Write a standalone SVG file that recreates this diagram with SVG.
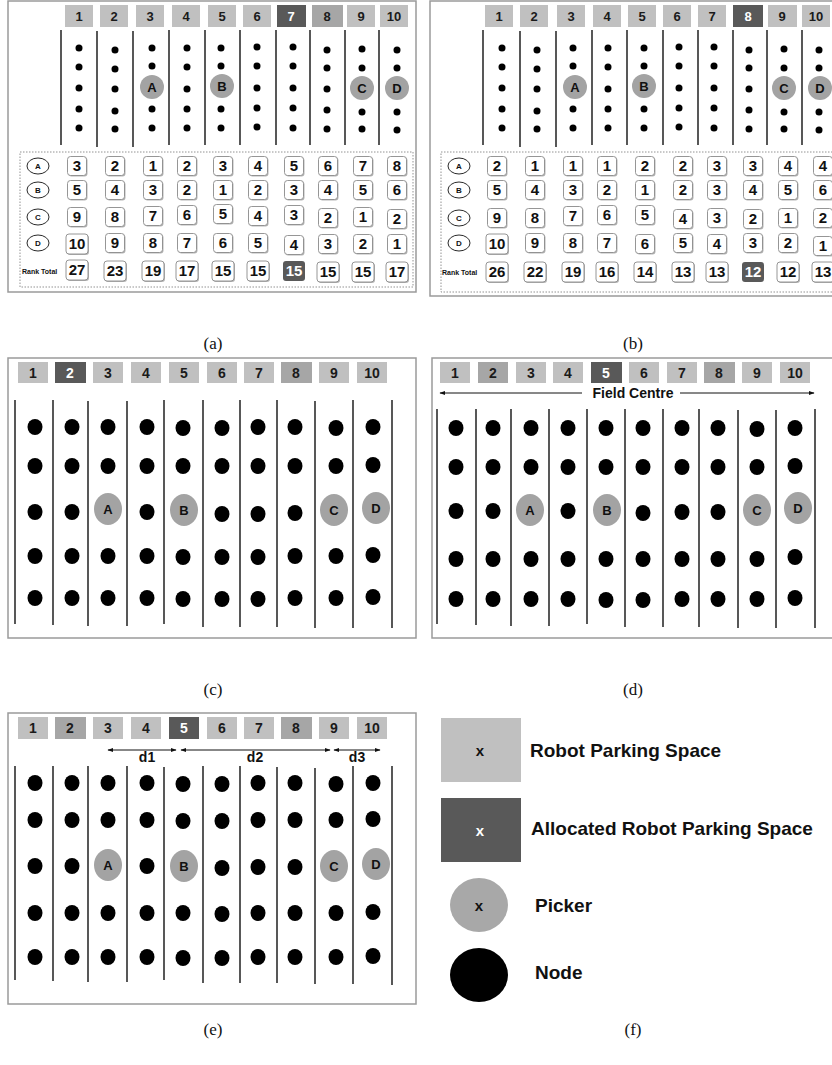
<svg xmlns="http://www.w3.org/2000/svg" width="832" height="1065" viewBox="0 0 832 1065">
<defs>
<style>
.frame{fill:#fff;stroke:#9a9a9a;stroke-width:1.5}
.tbl{fill:none;stroke:#777;stroke-width:0.8;stroke-dasharray:1.5 1.5}
.hl{fill:#c0c0c0}
.hm{fill:#a6a6a6}
.hd{fill:#595959}
.ht{font-family:"Liberation Sans",Arial,sans-serif;font-weight:bold;font-size:13px;text-anchor:middle;fill:#1a1a1a}
.h2{font-size:14px}
.ln{stroke:#111;stroke-width:1.4}
.dt{fill:#000}
.pk{fill:#a3a3a3}
.pt{font-family:"Liberation Sans",Arial,sans-serif;font-weight:bold;font-size:13px;text-anchor:middle;fill:#111}
.ov{fill:#fff;stroke:#111;stroke-width:0.9}
.ot{font-family:"Liberation Sans",Arial,sans-serif;font-weight:bold;font-size:8px;text-anchor:middle;fill:#111}
.nt{font-family:"Liberation Sans",Arial,sans-serif;font-weight:bold;font-size:15px;text-anchor:middle;fill:#111}
.rt{font-family:"Liberation Sans",Arial,sans-serif;font-weight:bold;font-size:7px;fill:#111}
.cap{font-family:"Liberation Serif","Times New Roman",serif;font-size:17px;text-anchor:middle;fill:#111}
.lg{font-family:"Liberation Sans",Arial,sans-serif;font-weight:bold;font-size:19px;fill:#111}
.lx{font-family:"Liberation Sans",Arial,sans-serif;font-weight:bold;font-size:15px;text-anchor:middle;fill:#111}
.ar{stroke:#111;stroke-width:1;fill:none;marker-start:url(#ah);marker-end:url(#ah)}
.ar1{stroke:#111;stroke-width:1;fill:none;marker-end:url(#ah)}
.dl{font-family:"Liberation Sans",Arial,sans-serif;font-weight:bold;font-size:14px;text-anchor:middle;fill:#111}
text.w{fill:#fff}
</style>
<marker id="ah" viewBox="0 0 10 10" refX="9" refY="5" markerWidth="6" markerHeight="6" markerUnits="userSpaceOnUse" orient="auto-start-reverse"><path d="M0,1.5 L10,5 L0,8.5 z" fill="#111"/></marker>
<g id="nb"><rect x="-8.5" y="-8.5" width="19" height="19" rx="3" fill="#b5b5b5"/><rect x="-9.5" y="-9.5" width="19" height="19" rx="3" fill="#fff" stroke="#8a8a8a" stroke-width="0.9"/></g>
<g id="nw"><rect x="-10" y="-9" width="22" height="20" rx="3" fill="#b5b5b5"/><rect x="-11" y="-10" width="22" height="20" rx="3" fill="#fff" stroke="#8a8a8a" stroke-width="0.9"/></g>
<g id="nd"><rect x="-11" y="-10" width="22" height="20" rx="3" fill="#595959"/></g>
</defs>
<rect width="832" height="1065" fill="#fff"/>

<!-- Panel (a) -->
<g id="panel-a">
<rect class="frame" x="8" y="1" width="408" height="291"/>
<g id="a-header">
<rect class="hl" x="65" y="5" width="28" height="22"/><text class="ht" x="79" y="21">1</text>
<rect class="hl" x="100" y="5" width="28" height="22"/><text class="ht" x="114" y="21">2</text>
<rect class="hl" x="136" y="5" width="28" height="22"/><text class="ht" x="150" y="21">3</text>
<rect class="hl" x="172" y="5" width="28" height="22"/><text class="ht" x="186" y="21">4</text>
<rect class="hl" x="208" y="5" width="28" height="22"/><text class="ht" x="222" y="21">5</text>
<rect class="hl" x="243" y="5" width="28" height="22"/><text class="ht" x="257" y="21">6</text>
<rect class="hd" x="277" y="5" width="29" height="22"/><text class="ht w" x="291" y="21">7</text>
<rect class="hm" x="312" y="5" width="31" height="22"/><text class="ht" x="327" y="21">8</text>
<rect class="hl" x="347" y="5" width="28" height="22"/><text class="ht" x="361" y="21">9</text>
<rect class="hl" x="380" y="5" width="28" height="22"/><text class="ht" x="394" y="21">10</text>
</g>
<g id="a-rows">
<line class="ln" x1="61" y1="30" x2="61" y2="145"/><line class="ln" x1="97" y1="31" x2="97" y2="147"/><line class="ln" x1="133" y1="31" x2="133" y2="147"/><line class="ln" x1="169" y1="30" x2="169" y2="145"/><line class="ln" x1="205" y1="30" x2="205" y2="145"/><line class="ln" x1="240" y1="30" x2="240" y2="145"/><line class="ln" x1="276" y1="30" x2="276" y2="145"/><line class="ln" x1="310" y1="30" x2="310" y2="145"/><line class="ln" x1="345" y1="30" x2="345" y2="145"/><line class="ln" x1="379" y1="30" x2="379" y2="145"/>
</g>
<g id="a-nodes">
<circle class="dt" cx="79" cy="48" r="3.5"/><circle class="dt" cx="79" cy="67" r="3.5"/><circle class="dt" cx="79" cy="88" r="3.5"/><circle class="dt" cx="79" cy="109" r="3.5"/><circle class="dt" cx="79" cy="128" r="3.5"/>
<circle class="dt" cx="115" cy="50" r="3.5"/><circle class="dt" cx="115" cy="69" r="3.5"/><circle class="dt" cx="115" cy="89" r="3.5"/><circle class="dt" cx="115" cy="111" r="3.5"/><circle class="dt" cx="115" cy="129" r="3.5"/>
<circle class="dt" cx="152" cy="48" r="3.5"/><circle class="dt" cx="152" cy="66" r="3.5"/><circle class="dt" cx="152" cy="109" r="3.5"/><circle class="dt" cx="152" cy="128" r="3.5"/>
<circle class="dt" cx="187" cy="48" r="3.5"/><circle class="dt" cx="187" cy="67" r="3.5"/><circle class="dt" cx="187" cy="89" r="3.5"/><circle class="dt" cx="187" cy="109" r="3.5"/><circle class="dt" cx="187" cy="128" r="3.5"/>
<circle class="dt" cx="221" cy="48" r="3.5"/><circle class="dt" cx="221" cy="66" r="3.5"/><circle class="dt" cx="221" cy="109" r="3.5"/><circle class="dt" cx="221" cy="128" r="3.5"/>
<circle class="dt" cx="257" cy="47" r="3.5"/><circle class="dt" cx="257" cy="66" r="3.5"/><circle class="dt" cx="257" cy="88" r="3.5"/><circle class="dt" cx="257" cy="108" r="3.5"/><circle class="dt" cx="257" cy="127" r="3.5"/>
<circle class="dt" cx="293" cy="47" r="3.5"/><circle class="dt" cx="293" cy="66" r="3.5"/><circle class="dt" cx="293" cy="88" r="3.5"/><circle class="dt" cx="293" cy="108" r="3.5"/><circle class="dt" cx="293" cy="128" r="3.5"/>
<circle class="dt" cx="327" cy="50" r="3.5"/><circle class="dt" cx="327" cy="68" r="3.5"/><circle class="dt" cx="327" cy="89" r="3.5"/><circle class="dt" cx="327" cy="110" r="3.5"/><circle class="dt" cx="327" cy="129" r="3.5"/>
<circle class="dt" cx="362" cy="49" r="3.5"/><circle class="dt" cx="362" cy="68" r="3.5"/><circle class="dt" cx="362" cy="112" r="3.5"/><circle class="dt" cx="362" cy="129" r="3.5"/>
<circle class="dt" cx="397" cy="50" r="3.5"/><circle class="dt" cx="397" cy="68" r="3.5"/><circle class="dt" cx="397" cy="112" r="3.5"/><circle class="dt" cx="397" cy="130" r="3.5"/>
</g>
<g id="a-pickers">
<circle class="pk" cx="152" cy="87" r="12"/><text class="pt" x="152" y="92">A</text>
<circle class="pk" cx="222" cy="86" r="12"/><text class="pt" x="222" y="91">B</text>
<circle class="pk" cx="362" cy="88" r="12"/><text class="pt" x="362" y="93">C</text>
<circle class="pk" cx="397" cy="88" r="12"/><text class="pt" x="397" y="93">D</text>
</g>
<g id="a-table">
<rect class="tbl" x="20" y="152" width="393" height="135"/>
<ellipse class="ov" cx="38" cy="166" rx="11" ry="8"/><text class="ot" x="38" y="169">A</text>
<ellipse class="ov" cx="38" cy="190" rx="11" ry="8"/><text class="ot" x="38" y="193">B</text>
<ellipse class="ov" cx="38" cy="217" rx="11" ry="8"/><text class="ot" x="38" y="220">C</text>
<ellipse class="ov" cx="38" cy="243" rx="11" ry="8"/><text class="ot" x="38" y="246">D</text>
<text class="rt" x="22" y="274">Rank Total</text>
<use href="#nb" x="77" y="166"/><use href="#nb" x="115" y="166"/><use href="#nb" x="153" y="166"/><use href="#nb" x="187" y="166"/><use href="#nb" x="223" y="166"/><use href="#nb" x="258" y="166"/><use href="#nb" x="294" y="166"/><use href="#nb" x="328" y="166"/><use href="#nb" x="363" y="166"/><use href="#nb" x="397" y="166"/>
<text class="nt" x="77" y="171">3</text><text class="nt" x="115" y="171">2</text><text class="nt" x="153" y="171">1</text><text class="nt" x="187" y="171">2</text><text class="nt" x="223" y="171">3</text><text class="nt" x="258" y="171">4</text><text class="nt" x="294" y="171">5</text><text class="nt" x="328" y="171">6</text><text class="nt" x="363" y="171">7</text><text class="nt" x="397" y="171">8</text>
<use href="#nb" x="77" y="190"/><use href="#nb" x="115" y="190"/><use href="#nb" x="153" y="190"/><use href="#nb" x="187" y="190"/><use href="#nb" x="223" y="190"/><use href="#nb" x="258" y="190"/><use href="#nb" x="294" y="190"/><use href="#nb" x="328" y="190"/><use href="#nb" x="363" y="190"/><use href="#nb" x="397" y="190"/>
<text class="nt" x="77" y="195">5</text><text class="nt" x="115" y="195">4</text><text class="nt" x="153" y="195">3</text><text class="nt" x="187" y="195">2</text><text class="nt" x="223" y="195">1</text><text class="nt" x="258" y="195">2</text><text class="nt" x="294" y="195">3</text><text class="nt" x="328" y="195">4</text><text class="nt" x="363" y="195">5</text><text class="nt" x="397" y="195">6</text>
<use href="#nb" x="77" y="217"/><use href="#nb" x="115" y="217"/><use href="#nb" x="153" y="216"/><use href="#nb" x="187" y="215"/><use href="#nb" x="223" y="214"/><use href="#nb" x="258" y="216"/><use href="#nb" x="294" y="215"/><use href="#nb" x="328" y="218"/><use href="#nb" x="363" y="217"/><use href="#nb" x="397" y="219"/>
<text class="nt" x="77" y="222">9</text><text class="nt" x="115" y="222">8</text><text class="nt" x="153" y="221">7</text><text class="nt" x="187" y="220">6</text><text class="nt" x="223" y="219">5</text><text class="nt" x="258" y="221">4</text><text class="nt" x="294" y="220">3</text><text class="nt" x="328" y="223">2</text><text class="nt" x="363" y="222">1</text><text class="nt" x="397" y="224">2</text>
<use href="#nw" x="77" y="244"/><use href="#nb" x="115" y="243"/><use href="#nb" x="153" y="243"/><use href="#nb" x="187" y="243"/><use href="#nb" x="223" y="243"/><use href="#nb" x="258" y="243"/><use href="#nb" x="294" y="245"/><use href="#nb" x="328" y="244"/><use href="#nb" x="363" y="244"/><use href="#nb" x="397" y="244"/>
<text class="nt" x="77" y="249">10</text><text class="nt" x="115" y="248">9</text><text class="nt" x="153" y="248">8</text><text class="nt" x="187" y="248">7</text><text class="nt" x="223" y="248">6</text><text class="nt" x="258" y="248">5</text><text class="nt" x="294" y="250">4</text><text class="nt" x="328" y="249">3</text><text class="nt" x="363" y="249">2</text><text class="nt" x="397" y="249">1</text>
<use href="#nw" x="77" y="270"/><use href="#nw" x="115" y="271"/><use href="#nw" x="153" y="271"/><use href="#nw" x="187" y="271"/><use href="#nw" x="223" y="271"/><use href="#nw" x="258" y="271"/><use href="#nd" x="294" y="271"/><use href="#nw" x="328" y="272"/><use href="#nw" x="363" y="272"/><use href="#nw" x="397" y="272"/>
<text class="nt" x="77" y="275">27</text><text class="nt" x="115" y="276">23</text><text class="nt" x="153" y="276">19</text><text class="nt" x="187" y="276">17</text><text class="nt" x="223" y="276">15</text><text class="nt" x="258" y="276">15</text><text class="nt w" x="294" y="276">15</text><text class="nt" x="328" y="277">15</text><text class="nt" x="363" y="277">15</text><text class="nt" x="397" y="277">17</text>
</g>
</g>

<!-- Panel (b) -->
<g id="panel-b">
<rect class="frame" x="430" y="1" width="420" height="295"/>
<g id="b-header">
<rect class="hl" x="485" y="5" width="28" height="22"/><text class="ht" x="499" y="21">1</text>
<rect class="hl" x="520" y="5" width="28" height="22"/><text class="ht" x="534" y="21">2</text>
<rect class="hl" x="557" y="5" width="28" height="22"/><text class="ht" x="571" y="21">3</text>
<rect class="hl" x="593" y="5" width="28" height="22"/><text class="ht" x="607" y="21">4</text>
<rect class="hl" x="628" y="5" width="28" height="22"/><text class="ht" x="642" y="21">5</text>
<rect class="hl" x="663" y="5" width="28" height="22"/><text class="ht" x="677" y="21">6</text>
<rect class="hl" x="698" y="5" width="28" height="22"/><text class="ht" x="712" y="21">7</text>
<rect class="hd" x="733" y="5" width="30" height="22"/><text class="ht w" x="748" y="21">8</text>
<rect class="hl" x="768" y="5" width="29" height="22"/><text class="ht" x="782" y="21">9</text>
<rect class="hl" x="802" y="5" width="28" height="22"/><text class="ht" x="816" y="21">10</text>
</g>
<g id="b-rows">
<line class="ln" x1="483" y1="30" x2="483" y2="145"/><line class="ln" x1="520" y1="31" x2="520" y2="147"/><line class="ln" x1="556" y1="31" x2="556" y2="147"/><line class="ln" x1="592" y1="30" x2="592" y2="145"/><line class="ln" x1="627" y1="30" x2="627" y2="145"/><line class="ln" x1="663" y1="30" x2="663" y2="145"/><line class="ln" x1="698" y1="30" x2="698" y2="145"/><line class="ln" x1="733" y1="30" x2="733" y2="145"/><line class="ln" x1="767" y1="30" x2="767" y2="145"/><line class="ln" x1="802" y1="30" x2="802" y2="145"/>
</g>
<g id="b-nodes">
<circle class="dt" cx="502" cy="48" r="3.5"/><circle class="dt" cx="502" cy="67" r="3.5"/><circle class="dt" cx="502" cy="88" r="3.5"/><circle class="dt" cx="502" cy="109" r="3.5"/><circle class="dt" cx="502" cy="128" r="3.5"/>
<circle class="dt" cx="537" cy="50" r="3.5"/><circle class="dt" cx="537" cy="69" r="3.5"/><circle class="dt" cx="537" cy="89" r="3.5"/><circle class="dt" cx="537" cy="111" r="3.5"/><circle class="dt" cx="537" cy="129" r="3.5"/>
<circle class="dt" cx="573" cy="48" r="3.5"/><circle class="dt" cx="573" cy="66" r="3.5"/><circle class="dt" cx="573" cy="109" r="3.5"/><circle class="dt" cx="573" cy="128" r="3.5"/>
<circle class="dt" cx="608" cy="48" r="3.5"/><circle class="dt" cx="608" cy="67" r="3.5"/><circle class="dt" cx="608" cy="89" r="3.5"/><circle class="dt" cx="608" cy="109" r="3.5"/><circle class="dt" cx="608" cy="128" r="3.5"/>
<circle class="dt" cx="644" cy="48" r="3.5"/><circle class="dt" cx="644" cy="66" r="3.5"/><circle class="dt" cx="644" cy="109" r="3.5"/><circle class="dt" cx="644" cy="128" r="3.5"/>
<circle class="dt" cx="679" cy="47" r="3.5"/><circle class="dt" cx="679" cy="66" r="3.5"/><circle class="dt" cx="679" cy="88" r="3.5"/><circle class="dt" cx="679" cy="108" r="3.5"/><circle class="dt" cx="679" cy="127" r="3.5"/>
<circle class="dt" cx="714" cy="47" r="3.5"/><circle class="dt" cx="714" cy="66" r="3.5"/><circle class="dt" cx="714" cy="88" r="3.5"/><circle class="dt" cx="714" cy="108" r="3.5"/><circle class="dt" cx="714" cy="128" r="3.5"/>
<circle class="dt" cx="749" cy="50" r="3.5"/><circle class="dt" cx="749" cy="68" r="3.5"/><circle class="dt" cx="749" cy="89" r="3.5"/><circle class="dt" cx="749" cy="110" r="3.5"/><circle class="dt" cx="749" cy="129" r="3.5"/>
<circle class="dt" cx="784" cy="49" r="3.5"/><circle class="dt" cx="784" cy="68" r="3.5"/><circle class="dt" cx="784" cy="112" r="3.5"/><circle class="dt" cx="784" cy="129" r="3.5"/>
<circle class="dt" cx="819" cy="50" r="3.5"/><circle class="dt" cx="819" cy="68" r="3.5"/><circle class="dt" cx="819" cy="112" r="3.5"/><circle class="dt" cx="819" cy="130" r="3.5"/>
</g>
<g id="b-pickers">
<circle class="pk" cx="575" cy="87" r="12"/><text class="pt" x="575" y="92">A</text>
<circle class="pk" cx="644" cy="86" r="12"/><text class="pt" x="644" y="91">B</text>
<circle class="pk" cx="784" cy="88" r="12"/><text class="pt" x="784" y="93">C</text>
<circle class="pk" cx="820" cy="88" r="12"/><text class="pt" x="820" y="93">D</text>
</g>
<g id="b-table">
<rect class="tbl" x="441" y="152" width="400" height="140"/>
<ellipse class="ov" cx="459" cy="166" rx="11" ry="8"/><text class="ot" x="459" y="169">A</text>
<ellipse class="ov" cx="459" cy="190" rx="11" ry="8"/><text class="ot" x="459" y="193">B</text>
<ellipse class="ov" cx="459" cy="218" rx="11" ry="8"/><text class="ot" x="459" y="221">C</text>
<ellipse class="ov" cx="459" cy="243" rx="11" ry="8"/><text class="ot" x="459" y="246">D</text>
<text class="rt" x="442" y="275">Rank Total</text>
<use href="#nb" x="497" y="166"/><use href="#nb" x="535" y="166"/><use href="#nb" x="573" y="166"/><use href="#nb" x="607" y="166"/><use href="#nb" x="645" y="166"/><use href="#nb" x="683" y="166"/><use href="#nb" x="717" y="166"/><use href="#nb" x="753" y="166"/><use href="#nb" x="788" y="166"/><use href="#nb" x="823" y="166"/>
<text class="nt" x="497" y="171">2</text><text class="nt" x="535" y="171">1</text><text class="nt" x="573" y="171">1</text><text class="nt" x="607" y="171">1</text><text class="nt" x="645" y="171">2</text><text class="nt" x="683" y="171">2</text><text class="nt" x="717" y="171">3</text><text class="nt" x="753" y="171">3</text><text class="nt" x="788" y="171">4</text><text class="nt" x="823" y="171">4</text>
<use href="#nb" x="497" y="190"/><use href="#nb" x="535" y="190"/><use href="#nb" x="573" y="190"/><use href="#nb" x="607" y="190"/><use href="#nb" x="645" y="190"/><use href="#nb" x="683" y="190"/><use href="#nb" x="717" y="190"/><use href="#nb" x="753" y="190"/><use href="#nb" x="788" y="190"/><use href="#nb" x="823" y="190"/>
<text class="nt" x="497" y="195">5</text><text class="nt" x="535" y="195">4</text><text class="nt" x="573" y="195">3</text><text class="nt" x="607" y="195">2</text><text class="nt" x="645" y="195">1</text><text class="nt" x="683" y="195">2</text><text class="nt" x="717" y="195">3</text><text class="nt" x="753" y="195">4</text><text class="nt" x="788" y="195">5</text><text class="nt" x="823" y="195">6</text>
<use href="#nb" x="497" y="218"/><use href="#nb" x="535" y="218"/><use href="#nb" x="573" y="216"/><use href="#nb" x="607" y="215"/><use href="#nb" x="645" y="215"/><use href="#nb" x="683" y="219"/><use href="#nb" x="717" y="218"/><use href="#nb" x="753" y="219"/><use href="#nb" x="788" y="218"/><use href="#nb" x="823" y="218"/>
<text class="nt" x="497" y="223">9</text><text class="nt" x="535" y="223">8</text><text class="nt" x="573" y="221">7</text><text class="nt" x="607" y="220">6</text><text class="nt" x="645" y="220">5</text><text class="nt" x="683" y="224">4</text><text class="nt" x="717" y="223">3</text><text class="nt" x="753" y="224">2</text><text class="nt" x="788" y="223">1</text><text class="nt" x="823" y="223">2</text>
<use href="#nw" x="497" y="244"/><use href="#nb" x="535" y="243"/><use href="#nb" x="573" y="243"/><use href="#nb" x="607" y="243"/><use href="#nb" x="645" y="244"/><use href="#nb" x="683" y="243"/><use href="#nb" x="717" y="244"/><use href="#nb" x="753" y="243"/><use href="#nb" x="788" y="243"/><use href="#nb" x="823" y="246"/>
<text class="nt" x="497" y="249">10</text><text class="nt" x="535" y="248">9</text><text class="nt" x="573" y="248">8</text><text class="nt" x="607" y="248">7</text><text class="nt" x="645" y="249">6</text><text class="nt" x="683" y="248">5</text><text class="nt" x="717" y="249">4</text><text class="nt" x="753" y="248">3</text><text class="nt" x="788" y="248">2</text><text class="nt" x="823" y="251">1</text>
<use href="#nw" x="497" y="272"/><use href="#nw" x="535" y="272"/><use href="#nw" x="573" y="272"/><use href="#nw" x="607" y="272"/><use href="#nw" x="645" y="272"/><use href="#nw" x="683" y="272"/><use href="#nw" x="717" y="272"/><use href="#nd" x="753" y="272"/><use href="#nw" x="788" y="272"/><use href="#nw" x="823" y="272"/>
<text class="nt" x="497" y="277">26</text><text class="nt" x="535" y="277">22</text><text class="nt" x="573" y="277">19</text><text class="nt" x="607" y="277">16</text><text class="nt" x="645" y="277">14</text><text class="nt" x="683" y="277">13</text><text class="nt" x="717" y="277">13</text><text class="nt w" x="753" y="277">12</text><text class="nt" x="788" y="277">12</text><text class="nt" x="823" y="277">13</text>
</g>
</g>

<text class="cap" x="213" y="349">(a)</text>
<text class="cap" x="633" y="349">(b)</text>

<!-- Panel (c) -->
<g id="panel-c">
<rect class="frame" x="8" y="358" width="408" height="280"/>
<g id="c-header">
<rect class="hl" x="18" y="362" width="30" height="21"/><text class="ht h2" x="33" y="378">1</text>
<rect class="hd" x="55" y="362" width="31" height="21"/><text class="ht h2 w" x="70" y="378">2</text>
<rect class="hl" x="93" y="362" width="30" height="21"/><text class="ht h2" x="108" y="378">3</text>
<rect class="hl" x="131" y="362" width="30" height="21"/><text class="ht h2" x="146" y="378">4</text>
<rect class="hl" x="169" y="362" width="30" height="21"/><text class="ht h2" x="184" y="378">5</text>
<rect class="hl" x="207" y="362" width="30" height="21"/><text class="ht h2" x="222" y="378">6</text>
<rect class="hl" x="244" y="362" width="30" height="21"/><text class="ht h2" x="259" y="378">7</text>
<rect class="hm" x="281" y="362" width="31" height="21"/><text class="ht h2" x="296" y="378">8</text>
<rect class="hl" x="319" y="362" width="30" height="21"/><text class="ht h2" x="334" y="378">9</text>
<rect class="hl" x="357" y="362" width="30" height="21"/><text class="ht h2" x="372" y="378">10</text>
</g>
<g id="c-rows">
<line class="ln" x1="15" y1="400" x2="15" y2="624"/><line class="ln" x1="53" y1="400" x2="53" y2="625"/><line class="ln" x1="88" y1="401" x2="88" y2="626"/><line class="ln" x1="127" y1="401" x2="127" y2="626"/><line class="ln" x1="164" y1="400" x2="164" y2="624"/><line class="ln" x1="203" y1="400" x2="203" y2="627"/><line class="ln" x1="240" y1="400" x2="240" y2="627"/><line class="ln" x1="277" y1="400" x2="277" y2="627"/><line class="ln" x1="315" y1="401" x2="315" y2="628"/><line class="ln" x1="353" y1="400" x2="353" y2="628"/><line class="ln" x1="392" y1="400" x2="392" y2="628"/>
</g>
<g id="c-nodes">
<ellipse class="dt" cx="35" cy="427" rx="7.5" ry="8"/><ellipse class="dt" cx="35" cy="466" rx="7.5" ry="8"/><ellipse class="dt" cx="35" cy="512" rx="7.5" ry="8"/><ellipse class="dt" cx="35" cy="556" rx="7.5" ry="8"/><ellipse class="dt" cx="35" cy="598" rx="7.5" ry="8"/>
<ellipse class="dt" cx="72" cy="427" rx="7.5" ry="8"/><ellipse class="dt" cx="72" cy="466" rx="7.5" ry="8"/><ellipse class="dt" cx="72" cy="512" rx="7.5" ry="8"/><ellipse class="dt" cx="72" cy="556" rx="7.5" ry="8"/><ellipse class="dt" cx="72" cy="598" rx="7.5" ry="8"/>
<ellipse class="dt" cx="108" cy="427" rx="7.5" ry="8"/><ellipse class="dt" cx="108" cy="466" rx="7.5" ry="8"/><ellipse class="dt" cx="108" cy="556" rx="7.5" ry="8"/><ellipse class="dt" cx="108" cy="598" rx="7.5" ry="8"/>
<ellipse class="dt" cx="147" cy="427" rx="7.5" ry="8"/><ellipse class="dt" cx="147" cy="466" rx="7.5" ry="8"/><ellipse class="dt" cx="147" cy="512" rx="7.5" ry="8"/><ellipse class="dt" cx="147" cy="556" rx="7.5" ry="8"/><ellipse class="dt" cx="147" cy="598" rx="7.5" ry="8"/>
<ellipse class="dt" cx="183" cy="428" rx="7.5" ry="8"/><ellipse class="dt" cx="183" cy="466" rx="7.5" ry="8"/><ellipse class="dt" cx="183" cy="557" rx="7.5" ry="8"/><ellipse class="dt" cx="183" cy="599" rx="7.5" ry="8"/>
<ellipse class="dt" cx="222" cy="428" rx="7.5" ry="8"/><ellipse class="dt" cx="222" cy="466" rx="7.5" ry="8"/><ellipse class="dt" cx="222" cy="514" rx="7.5" ry="8"/><ellipse class="dt" cx="222" cy="557" rx="7.5" ry="8"/><ellipse class="dt" cx="222" cy="599" rx="7.5" ry="8"/>
<ellipse class="dt" cx="258" cy="427" rx="7.5" ry="8"/><ellipse class="dt" cx="258" cy="466" rx="7.5" ry="8"/><ellipse class="dt" cx="258" cy="514" rx="7.5" ry="8"/><ellipse class="dt" cx="258" cy="557" rx="7.5" ry="8"/><ellipse class="dt" cx="258" cy="599" rx="7.5" ry="8"/>
<ellipse class="dt" cx="295" cy="427" rx="7.5" ry="8"/><ellipse class="dt" cx="295" cy="466" rx="7.5" ry="8"/><ellipse class="dt" cx="295" cy="513" rx="7.5" ry="8"/><ellipse class="dt" cx="295" cy="556" rx="7.5" ry="8"/><ellipse class="dt" cx="295" cy="598" rx="7.5" ry="8"/>
<ellipse class="dt" cx="336" cy="428" rx="7.5" ry="8"/><ellipse class="dt" cx="336" cy="466" rx="7.5" ry="8"/><ellipse class="dt" cx="336" cy="556" rx="7.5" ry="8"/><ellipse class="dt" cx="336" cy="598" rx="7.5" ry="8"/>
<ellipse class="dt" cx="373" cy="427" rx="7.5" ry="8"/><ellipse class="dt" cx="373" cy="465" rx="7.5" ry="8"/><ellipse class="dt" cx="373" cy="555" rx="7.5" ry="8"/><ellipse class="dt" cx="373" cy="597" rx="7.5" ry="8"/>
</g>
<g id="c-pickers">
<ellipse class="pk" cx="108" cy="509" rx="14" ry="16"/><text class="pt" x="108" y="514">A</text>
<ellipse class="pk" cx="184" cy="510" rx="14" ry="16"/><text class="pt" x="184" y="515">B</text>
<ellipse class="pk" cx="334" cy="510" rx="14" ry="16"/><text class="pt" x="334" y="515">C</text>
<ellipse class="pk" cx="376" cy="508" rx="14" ry="16"/><text class="pt" x="376" y="513">D</text>
</g>
</g>

<!-- Panel (d) -->
<g id="panel-d">
<rect class="frame" x="432" y="358" width="420" height="280"/>
<g id="d-header">
<rect class="hl" x="440" y="362" width="30" height="21"/><text class="ht h2" x="455" y="378">1</text>
<rect class="hm" x="478" y="362" width="30" height="21"/><text class="ht h2" x="493" y="378">2</text>
<rect class="hl" x="516" y="362" width="30" height="21"/><text class="ht h2" x="531" y="378">3</text>
<rect class="hl" x="553" y="362" width="30" height="21"/><text class="ht h2" x="568" y="378">4</text>
<rect class="hd" x="591" y="362" width="31" height="21"/><text class="ht h2 w" x="606" y="378">5</text>
<rect class="hl" x="629" y="362" width="30" height="21"/><text class="ht h2" x="644" y="378">6</text>
<rect class="hl" x="667" y="362" width="30" height="21"/><text class="ht h2" x="682" y="378">7</text>
<rect class="hm" x="704" y="362" width="31" height="21"/><text class="ht h2" x="719" y="378">8</text>
<rect class="hl" x="742" y="362" width="30" height="21"/><text class="ht h2" x="757" y="378">9</text>
<rect class="hl" x="780" y="362" width="30" height="21"/><text class="ht h2" x="795" y="378">10</text>
</g>
<g id="d-field-centre">
<line class="ar1" x1="582" y1="393" x2="440" y2="393"/>
<line class="ar1" x1="680" y1="393" x2="814" y2="393"/>
<text class="dl" x="633" y="398">Field Centre</text>
</g>
<g id="d-rows">
<line class="ln" x1="437" y1="409" x2="437" y2="624"/><line class="ln" x1="476" y1="409" x2="476" y2="625"/><line class="ln" x1="511" y1="409" x2="511" y2="626"/><line class="ln" x1="549" y1="409" x2="549" y2="626"/><line class="ln" x1="587" y1="409" x2="587" y2="624"/><line class="ln" x1="625" y1="409" x2="625" y2="627"/><line class="ln" x1="663" y1="409" x2="663" y2="627"/><line class="ln" x1="699" y1="409" x2="699" y2="627"/><line class="ln" x1="738" y1="410" x2="738" y2="628"/><line class="ln" x1="776" y1="410" x2="776" y2="628"/><line class="ln" x1="815" y1="409" x2="815" y2="628"/>
</g>
<g id="d-nodes">
<ellipse class="dt" cx="456" cy="428" rx="7.5" ry="8"/><ellipse class="dt" cx="456" cy="467" rx="7.5" ry="8"/><ellipse class="dt" cx="456" cy="511" rx="7.5" ry="8"/><ellipse class="dt" cx="456" cy="559" rx="7.5" ry="8"/><ellipse class="dt" cx="456" cy="599" rx="7.5" ry="8"/>
<ellipse class="dt" cx="493" cy="428" rx="7.5" ry="8"/><ellipse class="dt" cx="493" cy="467" rx="7.5" ry="8"/><ellipse class="dt" cx="493" cy="511" rx="7.5" ry="8"/><ellipse class="dt" cx="493" cy="559" rx="7.5" ry="8"/><ellipse class="dt" cx="493" cy="599" rx="7.5" ry="8"/>
<ellipse class="dt" cx="531" cy="428" rx="7.5" ry="8"/><ellipse class="dt" cx="531" cy="467" rx="7.5" ry="8"/><ellipse class="dt" cx="531" cy="559" rx="7.5" ry="8"/><ellipse class="dt" cx="531" cy="599" rx="7.5" ry="8"/>
<ellipse class="dt" cx="568" cy="428" rx="7.5" ry="8"/><ellipse class="dt" cx="568" cy="467" rx="7.5" ry="8"/><ellipse class="dt" cx="568" cy="511" rx="7.5" ry="8"/><ellipse class="dt" cx="568" cy="559" rx="7.5" ry="8"/><ellipse class="dt" cx="568" cy="599" rx="7.5" ry="8"/>
<ellipse class="dt" cx="606" cy="428" rx="7.5" ry="8"/><ellipse class="dt" cx="606" cy="467" rx="7.5" ry="8"/><ellipse class="dt" cx="606" cy="559" rx="7.5" ry="8"/><ellipse class="dt" cx="606" cy="600" rx="7.5" ry="8"/>
<ellipse class="dt" cx="643" cy="428" rx="7.5" ry="8"/><ellipse class="dt" cx="643" cy="467" rx="7.5" ry="8"/><ellipse class="dt" cx="643" cy="513" rx="7.5" ry="8"/><ellipse class="dt" cx="643" cy="559" rx="7.5" ry="8"/><ellipse class="dt" cx="643" cy="600" rx="7.5" ry="8"/>
<ellipse class="dt" cx="682" cy="428" rx="7.5" ry="8"/><ellipse class="dt" cx="682" cy="467" rx="7.5" ry="8"/><ellipse class="dt" cx="682" cy="512" rx="7.5" ry="8"/><ellipse class="dt" cx="682" cy="559" rx="7.5" ry="8"/><ellipse class="dt" cx="682" cy="599" rx="7.5" ry="8"/>
<ellipse class="dt" cx="718" cy="428" rx="7.5" ry="8"/><ellipse class="dt" cx="718" cy="467" rx="7.5" ry="8"/><ellipse class="dt" cx="718" cy="512" rx="7.5" ry="8"/><ellipse class="dt" cx="718" cy="559" rx="7.5" ry="8"/><ellipse class="dt" cx="718" cy="599" rx="7.5" ry="8"/>
<ellipse class="dt" cx="757" cy="429" rx="7.5" ry="8"/><ellipse class="dt" cx="757" cy="467" rx="7.5" ry="8"/><ellipse class="dt" cx="757" cy="559" rx="7.5" ry="8"/><ellipse class="dt" cx="757" cy="599" rx="7.5" ry="8"/>
<ellipse class="dt" cx="795" cy="428" rx="7.5" ry="8"/><ellipse class="dt" cx="795" cy="466" rx="7.5" ry="8"/><ellipse class="dt" cx="795" cy="557" rx="7.5" ry="8"/><ellipse class="dt" cx="795" cy="598" rx="7.5" ry="8"/>
</g>
<g id="d-pickers">
<ellipse class="pk" cx="530" cy="510" rx="14" ry="16"/><text class="pt" x="530" y="515">A</text>
<ellipse class="pk" cx="607" cy="510" rx="14" ry="16"/><text class="pt" x="607" y="515">B</text>
<ellipse class="pk" cx="757" cy="510" rx="14" ry="16"/><text class="pt" x="757" y="515">C</text>
<ellipse class="pk" cx="798" cy="508" rx="14" ry="16"/><text class="pt" x="798" y="513">D</text>
</g>
</g>

<text class="cap" x="213" y="695">(c)</text>
<text class="cap" x="633" y="695">(d)</text>

<!-- Panel (e) -->
<g id="panel-e">
<rect class="frame" x="8" y="713" width="408" height="291"/>
<g id="e-header">
<rect class="hl" x="18" y="717" width="30" height="22"/><text class="ht h2" x="33" y="733">1</text>
<rect class="hm" x="55" y="717" width="31" height="22"/><text class="ht h2" x="70" y="733">2</text>
<rect class="hl" x="93" y="717" width="30" height="22"/><text class="ht h2" x="108" y="733">3</text>
<rect class="hl" x="131" y="717" width="30" height="22"/><text class="ht h2" x="146" y="733">4</text>
<rect class="hd" x="169" y="717" width="30" height="22"/><text class="ht h2 w" x="184" y="733">5</text>
<rect class="hl" x="207" y="717" width="30" height="22"/><text class="ht h2" x="222" y="733">6</text>
<rect class="hl" x="244" y="717" width="30" height="22"/><text class="ht h2" x="259" y="733">7</text>
<rect class="hm" x="281" y="717" width="31" height="22"/><text class="ht h2" x="296" y="733">8</text>
<rect class="hl" x="319" y="717" width="30" height="22"/><text class="ht h2" x="334" y="733">9</text>
<rect class="hl" x="357" y="717" width="30" height="22"/><text class="ht h2" x="372" y="733">10</text>
</g>
<g id="e-distances">
<line class="ar" x1="108" y1="750" x2="176" y2="750"/>
<line class="ar" x1="181" y1="750" x2="330" y2="750"/>
<line class="ar" x1="334" y1="750" x2="380" y2="750"/>
<text class="dl" x="147" y="762">d1</text>
<text class="dl" x="255" y="762">d2</text>
<text class="dl" x="357" y="762">d3</text>
</g>
<g id="e-rows">
<line class="ln" x1="15" y1="766" x2="15" y2="980"/><line class="ln" x1="53" y1="766" x2="53" y2="981"/><line class="ln" x1="88" y1="766" x2="88" y2="982"/><line class="ln" x1="127" y1="766" x2="127" y2="982"/><line class="ln" x1="164" y1="767" x2="164" y2="980"/><line class="ln" x1="203" y1="766" x2="203" y2="983"/><line class="ln" x1="240" y1="766" x2="240" y2="983"/><line class="ln" x1="277" y1="767" x2="277" y2="983"/><line class="ln" x1="315" y1="768" x2="315" y2="984"/><line class="ln" x1="353" y1="766" x2="353" y2="984"/><line class="ln" x1="392" y1="766" x2="392" y2="985"/>
</g>
<g id="e-nodes">
<ellipse class="dt" cx="35" cy="783" rx="7.5" ry="8"/><ellipse class="dt" cx="35" cy="820" rx="7.5" ry="8"/><ellipse class="dt" cx="35" cy="866" rx="7.5" ry="8"/><ellipse class="dt" cx="35" cy="913" rx="7.5" ry="8"/><ellipse class="dt" cx="35" cy="957" rx="7.5" ry="8"/>
<ellipse class="dt" cx="72" cy="783" rx="7.5" ry="8"/><ellipse class="dt" cx="72" cy="820" rx="7.5" ry="8"/><ellipse class="dt" cx="72" cy="866" rx="7.5" ry="8"/><ellipse class="dt" cx="72" cy="913" rx="7.5" ry="8"/><ellipse class="dt" cx="72" cy="957" rx="7.5" ry="8"/>
<ellipse class="dt" cx="108" cy="783" rx="7.5" ry="8"/><ellipse class="dt" cx="108" cy="820" rx="7.5" ry="8"/><ellipse class="dt" cx="108" cy="913" rx="7.5" ry="8"/><ellipse class="dt" cx="108" cy="957" rx="7.5" ry="8"/>
<ellipse class="dt" cx="147" cy="783" rx="7.5" ry="8"/><ellipse class="dt" cx="147" cy="820" rx="7.5" ry="8"/><ellipse class="dt" cx="147" cy="866" rx="7.5" ry="8"/><ellipse class="dt" cx="147" cy="913" rx="7.5" ry="8"/><ellipse class="dt" cx="147" cy="957" rx="7.5" ry="8"/>
<ellipse class="dt" cx="183" cy="784" rx="7.5" ry="8"/><ellipse class="dt" cx="183" cy="821" rx="7.5" ry="8"/><ellipse class="dt" cx="183" cy="913" rx="7.5" ry="8"/><ellipse class="dt" cx="183" cy="958" rx="7.5" ry="8"/>
<ellipse class="dt" cx="222" cy="784" rx="7.5" ry="8"/><ellipse class="dt" cx="222" cy="821" rx="7.5" ry="8"/><ellipse class="dt" cx="222" cy="868" rx="7.5" ry="8"/><ellipse class="dt" cx="222" cy="914" rx="7.5" ry="8"/><ellipse class="dt" cx="222" cy="958" rx="7.5" ry="8"/>
<ellipse class="dt" cx="258" cy="783" rx="7.5" ry="8"/><ellipse class="dt" cx="258" cy="820" rx="7.5" ry="8"/><ellipse class="dt" cx="258" cy="867" rx="7.5" ry="8"/><ellipse class="dt" cx="258" cy="913" rx="7.5" ry="8"/><ellipse class="dt" cx="258" cy="957" rx="7.5" ry="8"/>
<ellipse class="dt" cx="295" cy="783" rx="7.5" ry="8"/><ellipse class="dt" cx="295" cy="820" rx="7.5" ry="8"/><ellipse class="dt" cx="295" cy="867" rx="7.5" ry="8"/><ellipse class="dt" cx="295" cy="913" rx="7.5" ry="8"/><ellipse class="dt" cx="295" cy="957" rx="7.5" ry="8"/>
<ellipse class="dt" cx="336" cy="784" rx="7.5" ry="8"/><ellipse class="dt" cx="336" cy="820" rx="7.5" ry="8"/><ellipse class="dt" cx="336" cy="913" rx="7.5" ry="8"/><ellipse class="dt" cx="336" cy="957" rx="7.5" ry="8"/>
<ellipse class="dt" cx="373" cy="783" rx="7.5" ry="8"/><ellipse class="dt" cx="373" cy="819" rx="7.5" ry="8"/><ellipse class="dt" cx="373" cy="912" rx="7.5" ry="8"/><ellipse class="dt" cx="373" cy="956" rx="7.5" ry="8"/>
</g>
<g id="e-pickers">
<ellipse class="pk" cx="108" cy="865" rx="14" ry="16"/><text class="pt" x="108" y="870">A</text>
<ellipse class="pk" cx="184" cy="866" rx="14" ry="16"/><text class="pt" x="184" y="871">B</text>
<ellipse class="pk" cx="334" cy="866" rx="14" ry="16"/><text class="pt" x="334" y="871">C</text>
<ellipse class="pk" cx="376" cy="864" rx="14" ry="16"/><text class="pt" x="376" y="869">D</text>
</g>
</g>

<!-- Panel (f) legend -->
<g id="legend">
<g id="lg-parking"><rect class="hl" x="441" y="718" width="80" height="64"/><text class="lx" x="480" y="756">x</text><text class="lg" x="530" y="757">Robot Parking Space</text></g>
<g id="lg-allocated"><rect class="hd" x="441" y="798" width="80" height="64"/><text class="lx w" x="480" y="836">x</text><text class="lg" x="531" y="835">Allocated Robot Parking Space</text></g>
<g id="lg-picker"><ellipse cx="479" cy="905" rx="29" ry="27" fill="#a8a8a8"/><text class="lx" x="479" y="911">x</text><text class="lg" x="535" y="912">Picker</text></g>
<g id="lg-node"><ellipse cx="479" cy="975" rx="29" ry="27" fill="#000"/><text class="lg" x="535" y="979">Node</text></g>
</g>

<text class="cap" x="213" y="1035">(e)</text>
<text class="cap" x="633" y="1035">(f)</text>
</svg>
